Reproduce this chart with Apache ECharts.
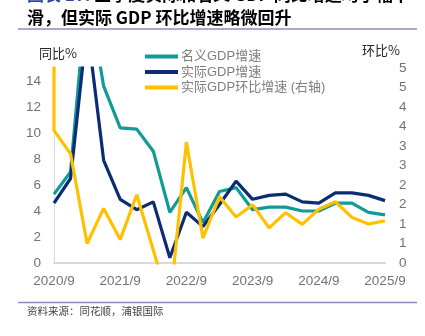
<!DOCTYPE html>
<html>
<head>
<meta charset="utf-8">
<script src="https://cdn.jsdelivr.net/npm/echarts@6/dist/echarts.min.js"></script>
<style>
html,body{margin:0;padding:0;background:#fff;}
#c{width:425px;height:336px;}
</style>
</head>
<body>
<div id="c"></div>
<script>
// Quarter labels (x axis)
var quarters = ['2020/9','2020/12','2021/3','2021/6','2021/9','2021/12','2022/3','2022/6','2022/9','2022/12',
  '2023/3','2023/6','2023/9','2023/12','2024/3','2024/6','2024/9','2024/12','2025/3','2025/6','2025/9'];
// 名义GDP增速 (%)
var nominal = [5.3, 7.0, 21.2, 13.6, 10.4, 10.3, 8.6, 3.9, 5.8, 3.1, 5.5, 5.8, 4.1, 4.3, 4.3, 4.0, 4.0, 4.6, 4.6, 3.9, 3.7];
// 实际GDP增速 (%)
var real = [4.6, 6.5, 18.3, 7.9, 4.9, 4.1, 4.7, 0.4, 3.9, 2.8, 4.5, 6.3, 4.9, 5.2, 5.3, 4.7, 4.6, 5.4, 5.4, 5.2, 4.8];
// 实际GDP环比增速 (%), right axis; qoqLead is the prior-quarter value drawn at the first tick
var qoqLead = 11.7;
var qoq = [3.4, 2.8, 0.5, 1.4, 0.6, 1.75, 0.33, -1.1, 3.1, 0.64, 1.7, 1.18, 1.49, 0.9, 1.29, 0.99, 1.38, 1.57, 1.17, 1.0, 1.08];
// Right axis tick labels (0 to 5 step 0.5, shown rounded)
var rightLabels = ['0','1','1','2','2','3','3','4','4','5','5'];
var legendNames = ['名义GDP增速','实际GDP增速','实际GDP环比增速 (右轴)'];

var cTeal = '#109B95', cNavy = '#0B2C74', cYellow = '#FFC000';
var fontF = '"Liberation Sans","Noto Sans CJK SC",sans-serif';

var chart = echarts.init(document.getElementById('c'), null, {renderer:'canvas'});
function pairs(arr){ return arr.map(function(v,i){ return [i, v]; }); }

chart.setOption({
  animation: false,
  backgroundColor: '#fff',
  grid: {left: 54, right: 40, top: 68, bottom: 73, containLabel: false},
  legend: {
    orient: 'vertical', left: 140, top: 45, itemWidth: 33, itemHeight: 4, itemGap: 2.5,
    icon: 'rect',
    textStyle: {color: '#7F7F7F', fontSize: 13, fontFamily: fontF, padding: [0,0,0,-2]},
    data: legendNames
  },
  xAxis: {
    type: 'value', min: 0, max: quarters.length - 1, interval: 4,
    axisLine: {show: true, lineStyle: {color: '#D9D9D9', width: 2}},
    axisTick: {show: false}, splitLine: {show: false},
    axisLabel: {color: '#737373', fontSize: 13.5, fontFamily: fontF, margin: 12,
      formatter: function(v){ return quarters[Math.round(v)]; }}
  },
  yAxis: [{
    type: 'value', min: 0, max: 15, interval: 2,
    axisLine: {show: true, lineStyle: {color: '#D9D9D9', width: 1}},
    axisTick: {show: false}, splitLine: {show: false},
    axisLabel: {color: '#737373', fontSize: 13.5, fontFamily: fontF, margin: 13, showMaxLabel: false}
  }, {
    type: 'value', min: 0, max: 5, interval: 0.5, position: 'right',
    axisLine: {show: false}, axisTick: {show: false}, splitLine: {show: false},
    axisLabel: {color: '#737373', fontSize: 13.5, fontFamily: fontF, margin: 14,
      formatter: function(v){ return rightLabels[Math.round(v / 0.5)]; }}
  }],
  series: [{
    name: legendNames[0], type: 'line', data: pairs(nominal), yAxisIndex: 0,
    showSymbol: false, symbol: 'none', lineStyle: {color: cTeal, width: 3.2}, itemStyle: {color: cTeal}
  }, {
    name: legendNames[1], type: 'line', data: pairs(real), yAxisIndex: 0,
    showSymbol: false, symbol: 'none', lineStyle: {color: cNavy, width: 3.2}, itemStyle: {color: cNavy}
  }, {
    name: legendNames[2], type: 'line', data: [[0, qoqLead]].concat(pairs(qoq)), yAxisIndex: 1,
    showSymbol: false, symbol: 'none', lineStyle: {color: cYellow, width: 3.2}, itemStyle: {color: cYellow}
  }],
  graphic: [
    {type: 'text', left: 27, top: -14, style: {
      text: '{b|图表 17:} 三季度实际和名义 GDP 同比增速均小幅下',
      rich: {b: {fill: '#2E4A9E', font: 'bold 17px "Noto Sans CJK SC"'}},
      fill: '#000', font: 'bold 17px "Noto Sans CJK SC"'}},
    {type: 'text', left: 27, top: 9, style: {
      text: '滑，但实际 GDP 环比增速略微回升', fill: '#000', font: 'bold 17px "Noto Sans CJK SC"'}},
    {type: 'line', shape: {x1: 18, y1: 29, x2: 417, y2: 29}, style: {stroke: '#8C8CB8', lineWidth: 1.5}},
    {type: 'line', shape: {x1: 18, y1: 302.5, x2: 417, y2: 302.5}, style: {stroke: '#8C8CB8', lineWidth: 1.5}},
    {type: 'text', left: 39, top: 47, style: {text: '同比%', fill: '#262626', font: '13px "Noto Sans CJK SC"'}},
    {type: 'text', left: 362, top: 44, style: {text: '环比%', fill: '#262626', font: '13px "Noto Sans CJK SC"'}},
    {type: 'text', left: 27, top: 306, style: {text: '资料来源：同花顺，浦银国际', fill: '#444', font: '10.5px "Noto Sans CJK SC"'}}
  ]
});
</script>
</body>
</html>
